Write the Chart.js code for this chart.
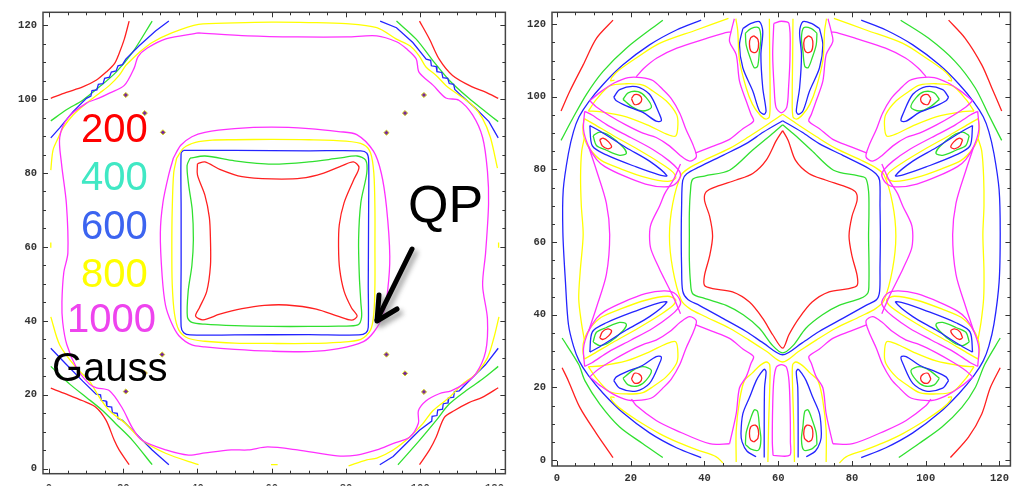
<!DOCTYPE html>
<html><head><meta charset="utf-8">
<script src="https://cdn.jsdelivr.net/npm/chart.js@4.4.1/dist/chart.umd.min.js"></script>
<style>
html,body{margin:0;padding:0;background:#fff;width:1015px;height:486px;overflow:hidden}
body{position:relative}
#c1{position:absolute;left:0;top:0}
#c2{position:absolute;left:510px;top:0}
.lbl{position:absolute;font-family:"Liberation Sans",Arial,sans-serif;font-size:40px;line-height:40px;white-space:nowrap}
#arrow{position:absolute;left:0;top:0}
</style></head><body>
<canvas id="c1" width="512" height="486"></canvas>
<canvas id="c2" width="505" height="486"></canvas>
<div class="lbl" id="t200" style="left:81px;top:108px;color:#ff0000"></div>
<div class="lbl" id="t400" style="left:81px;top:156px;color:#40e8c4"></div>
<div class="lbl" id="t600" style="left:81px;top:205px;color:#3c64f0"></div>
<div class="lbl" id="t800" style="left:81px;top:253px;color:#ffff00"></div>
<div class="lbl" id="t1000" style="left:67px;top:298px;color:#ee44ee"></div>
<div class="lbl" id="tunit" style="left:52px;top:347px;color:#000"></div>
<div class="lbl" id="tqp" style="left:408px;top:178px;color:#000;font-size:52px;line-height:52px"></div>
<svg id="arrow" width="1015" height="486">
<defs><filter id="sh" x="-50%" y="-50%" width="200%" height="200%"><feGaussianBlur stdDeviation="2.5"/></filter></defs>
<g stroke="#888" stroke-width="6" fill="none" stroke-linecap="round" stroke-linejoin="round" filter="url(#sh)" opacity="0.7" transform="translate(3,4)">
<path d="M412,249 L377,320"/><path d="M379,295 L377,321 L397,309"/></g>
<g stroke="#000" stroke-width="5" fill="none" stroke-linecap="round" stroke-linejoin="round">
<path d="M412,249 L377,320"/><path d="M379,295 L377,321 L397,309"/></g>
</svg>
<script>
// ---------- text / ticks ----------
const levelLabels = ['200','400','600','800','1000'];
const unitLabel = 'Gauss';
const pointLabel = 'QP';
const tickValues = [0,20,40,60,80,100,120];

// ---------- LEFT PANEL contours (x,y pairs) ----------
const L_red_center = [40,82.5,42,83,46,81,52,79,60,78.4,68,78.6,74,80,79,82,82,83,83.5,81.5,82,78,79.5,72,78.2,66,78,60,78.3,54,79.5,48,81.5,43.5,83,41.3,81.5,40.2,78,41.2,72,43.2,64,44.3,58,44.2,52,43.3,46,41.8,41.5,40.3,39.5,41.3,40.5,43.5,42.5,48,43.5,55,43.5,62,43.2,68,42,74,40,79.5,40,82.5];
const L_red_TL = [0.5,100.2,4.7,101.8,9.1,103.3,12.7,105.1,15.4,107.3,17.6,109.5,19,112.6,20.3,116.2,21.6,121.1];
const L_red_TR = [99.8,121.1,102.5,116.2,105.1,110.8,108.7,106.4,114,103.3,117.6,101.9,121,100.2];
const L_red_BR = [121,21.9,116.7,19.3,113.1,17.9,109.1,15.7,106.5,13.9,104.3,8.6,102.5,5.1,99.8,1.1];
const L_red_BL = [0.5,21.8,4.7,20.2,9.1,18.4,12.7,16.6,15.4,13.1,17.6,7.7,18.9,5.1,21.6,1.1];

const L_green_center = [38,84,42,84.6,50,83.3,60,82.4,70,83,78,84,83,84.6,85.3,83.5,85.6,80,84,72,83.4,62,83.6,52,84,45,84.2,41,83.2,38.9,78,38.6,70,38.5,60,38.5,50,38.7,42,39.1,38.5,39.6,37.3,41,37.5,48,38.5,55,38.9,62,38.6,70,37.6,77,37.2,82,38,84];
const L_green_TL = [0.5,94.1,4.7,97.1,9.1,99.7,13.6,103.3,18.1,107.3,22.5,112.6,27.8,121.1];
const L_green_TR = [93.6,121.1,98.9,116.2,103.4,110.4,107.8,105.1,113.1,100.2,117.6,96.6,121,93.9];
const L_green_BR = [121,27.7,116.7,24.2,112.3,21.1,107.8,17.5,104.3,13.1,99.8,7.7,94,1.1];
const L_green_BL = [0.5,27.7,5.6,22.9,10.1,19.3,14.5,15.7,18,12.2,22.5,7.7,27.8,1.1];

const L_blue_center = [36.2,86.1,50,86.1,70,86,84,86,85.6,85.4,86.1,83.5,86.1,70,86,50,86,38.3,85.4,36.8,83.5,36.2,70,36.3,50,36.2,38,36.2,36.3,36.8,35.6,38.5,35.6,55,35.6,70,35.6,85.4,36.2,86.1];
const L_blue_TL = [0.5,89.5,2.9,92.2,6.5,96.6,10.1,100.2,11.3,100.8,11.6,102.3,12.9,102.5,13.3,104,14.6,104.2,15,105.6,16.3,105.9,16.8,107.3,18.1,107.6,18.6,109,19.8,109.3,20.7,110.8,24.3,114.4,28.7,118.4,32.3,121.1];
const L_blue_TR = [89.2,121.1,93.6,119.3,98,115.3,101.6,110.8,102.8,110.5,103,109,104.3,108.8,104.5,107.4,105.8,107.2,106.1,105.8,107.4,105.6,107.8,104.2,109,104,109.3,102.6,111.4,100.6,114.9,97.5,118.5,93.9,121,89.5];
const L_blue_BR = [121,32.6,117.6,28.2,114,24.6,110.5,21.1,109.2,20.9,109,19.4,107.7,19.2,107.5,17.8,106.2,17.6,106,16.1,104.7,15.9,104.5,14.4,103.2,14.2,103.1,12.9,99.8,10.4,96.3,6.9,92.7,3.3,89.1,1.1];
const L_blue_BL = [0.5,32.6,4.7,28.2,9.1,23.7,12.7,20.2,13.9,20,14.1,18.5,15.4,18.3,15.6,16.9,16.9,16.7,17.1,15.2,18.4,15,18.6,13.6,19.8,13.1,23.4,9.5,27.8,5.1,32.3,1.1];

const L_yellow_center = [34.4,84,36.3,86.8,39.5,88.3,44,88.9,50,89,60,89.1,70,89,80,88.6,84.7,87.7,86.6,85.5,87.5,80,87.8,70,87.8,60,87.8,50,87.5,42,86.6,37.5,84,35,78,34.2,70,33.9,60,33.9,50,34,42,34.5,37.5,35.3,35,37.5,33.8,42,33.2,50,33.1,60,33.2,70,33.6,80,34.4,84];
const L_yellow_top = [0.5,80.8,1.1,86.2,2.5,89.5,3.8,92.2,6.5,95.7,10.1,98.9,13.6,101.6,16.3,103.7,18.9,106.4,20.7,109.1,22.5,110.9,24.3,112.6,27.8,115.3,33.1,117.9,40.3,120.2,50,120.6,60,120.8,70,120.7,80,120.4,88.3,119.3,93.6,116.2,97.2,114.4,99.7,111.7,101.6,108.6,104.3,106.4,106.9,103.7,110.4,101.1,114,98.4,116.7,94.9,118.9,89.6,120.8,81.3];
const L_yellow_BR = [121.2,41.1,119.8,35.3,118.1,30,114.9,25.6,111.4,22.9,107.8,19.3,103.4,15.7,100.7,12.2,97.2,8.6,92.7,5.1,88.3,2.9,85.6,2.4,80.7,0.8];
const L_yellow_BL = [0.5,41.1,2.9,33.5,7.4,27.3,10.9,23.7,13.6,19.3,16.3,15.7,20.7,12.2,25.1,7.7,31.4,4.2,40.3,1.1];
const L_yellow_stubL = [0.5,61.2,0.5,59.8];
const L_yellow_stubR = [121.1,61.2,121.1,59.8];
const L_yellow_stubB = [59.8,1.1,61.6,1.1];

const L_magenta_center = [33.5,84,35.5,87.5,38.5,89.8,42,91,50,92,60,92.4,70,92,78,91.2,82.9,90.4,87.4,85.9,89.5,80,90.9,70.9,91.8,57.5,91.2,48,90,41.5,87.5,37,84.7,34.4,78,32.5,70,31.7,60,31.8,50,32.3,42,33,38.5,33.5,35,36,33,39.5,31.4,44.2,30.5,52,30,63.7,30.7,72,32.3,79.7,33.5,84];
const L_magenta_outer = [40.3,117.9,53.6,117.1,66.9,116.8,80.3,116.8,88.3,117.1,93.6,115.5,96.3,113.6,98.9,110.9,99.7,107.2,103.5,103.7,106.9,100.3,110.4,99.7,114.1,95.7,116.8,89.6,118.1,80.5,118.4,71.7,117.6,58.4,116.8,49.6,118.1,40.5,117.6,31.7,114.9,25.6,111.7,22.9,108.3,21.1,105.1,20.3,101.6,18.4,99.5,15.7,99.5,12.3,97.1,8.5,92.8,6.9,88.3,5.1,82.9,3.7,77.6,3.5,66.9,5.1,58.9,5.9,53.6,5.1,49.1,5.1,42.1,4.3,37.6,3.7,31.5,5.1,25.1,7.7,22.4,11.2,19.7,16.5,16.3,21.1,12.8,21.9,10.9,22.9,7.5,27.2,4.8,33.6,3.7,39.7,3.5,45.1,4,53.1,5.1,58.4,4.7,71.7,3.4,82.4,2.9,89.6,5.1,94.9,10.1,98.9,13.6,100.3,16.3,101.6,20.3,103.7,23,108.5,24,111.5,26.5,113.8,31.5,116.3,40.3,117.9];
const L_markers = [20.7,101.1,25.8,96.2,30.7,91.0,101.0,101.1,95.9,96.2,90.9,90.9,90.9,30.9,95.9,25.8,101.0,20.8,30.5,30.9,25.8,25.9,20.7,20.9];

// ---------- RIGHT PANEL contours ----------
const R_red_star = [61.2,90.7,59.5,88,56.7,82.5,53.1,78.9,48.6,77.1,43.2,75.3,40.5,73.9,40,71.6,41.4,67.1,42.2,61.7,41.4,56.2,40,50.8,40,48.1,42.2,47.2,47.6,46.3,52.2,43.5,55.8,39,58.5,34.5,61.2,30.8,62.9,34.5,65.6,39,69.2,43.5,73.8,46.3,79.2,47.2,81.4,48.1,81.4,50.8,80,56.2,79.2,61.7,80,67.1,81.4,71.6,80.9,73.9,78.2,75.3,72.8,77.1,68.3,78.9,64.7,82.5,62.7,88,61.2,90.7];
const R_red_TL = [1.1,96.1,3.5,101.6,7.1,108.8,10.7,116.1,15.2,121.1];
const R_red_TR = [106.2,121.1,110.7,116.1,115.2,108.8,117.9,102.5,120.6,96.1];
const R_red_BL = [1.4,25.4,3.1,21.8,6.2,14.5,10.7,7.3,15.2,0.7];
const R_red_BR = [106.7,0.7,111.6,6.3,115.2,12.7,117.5,19.9,120.2,25.4];
const R_red_lobes = [
 [53.4,116.8,54.5,115.8,54.6,113.5,53.8,112.2,52.6,112.6,52.2,114.5,52.5,116.2,53.4,116.8],
 [68.2,116.8,67.1,115.8,67,113.5,67.8,112.2,69,112.6,69.4,114.5,69.1,116.2,68.2,116.8],
 [53.4,5,54.5,6,54.6,8.3,53.8,9.6,52.6,9.2,52.2,7.3,52.5,5.6,53.4,5],
 [68.2,5,67.1,6,67,8.3,67.8,9.6,69,9.2,69.4,7.3,69.1,5.6,68.2,5],
 [20.2,99.5,21,100.6,22.4,100.4,23,99.3,22.4,98.2,21,97.9,20.2,99.5],
 [11.6,88.2,12.5,88.6,14,87.6,14.8,86.2,13.8,85.7,12.3,86.5,11.6,88.2],
 [101.4,99.5,100.6,100.6,99.2,100.4,98.6,99.3,99.2,98.2,100.6,97.9,101.4,99.5],
 [110,88.2,109.1,88.6,107.6,87.6,106.8,86.2,107.8,85.7,109.3,86.5,110,88.2],
 [20.2,22.3,21,21.2,22.4,21.4,23,22.5,22.4,23.6,21,23.9,20.2,22.3],
 [11.6,33.6,12.5,33.2,14,34.2,14.8,35.6,13.8,36.1,12.3,35.3,11.6,33.6],
 [101.4,22.3,100.6,21.2,99.2,21.4,98.6,22.5,99.2,23.6,100.6,23.9,101.4,22.3],
 [110,33.6,109.1,33.2,107.6,34.2,106.8,35.6,107.8,36.1,109.3,35.3,110,33.6]
];

const R_green_star = [61.2,92.3,58,89.5,53,85.3,46.8,79.8,40,78.2,36.8,77.3,36.2,74,35.9,68,35.9,61.7,35.9,55,36.2,49,36.8,45.8,40,44.5,45.9,42.6,50.5,40,54.9,36.3,58.5,31.5,61.2,29.5,64,31.5,67.5,36.3,72,40,76.5,42.6,82.3,44.5,84.3,46,84.6,49,84.6,55,84.5,61.7,84.6,68,84.5,74,83.7,77.6,81.5,78.3,75,79.8,69,85.3,64.5,89.5,61.2,92.3];
const R_green_TL = [1.1,88,4.4,94.3,8,100.7,12.5,107,18.8,113.4,28.7,121.1];
const R_green_TR = [93.2,121.1,100.8,116.1,108,109.7,113.4,102.5,117,95.2,120.6,88];
const R_green_BL = [1.4,33.6,5.9,26.3,7.6,21.8,11.6,15.4,17,9.1,23.3,4.5,28.7,0.7];
const R_green_BR = [92.7,0.7,98.1,4.5,104.4,9.1,109.8,14.5,113.4,19.9,116,26.3,120.2,33.6];
const R_green_lobes = [
 [51.1,117.5,52.6,118.8,54.7,119,55.3,116.1,54.9,112.5,54.4,108.4,53.5,108,52.4,110.7,51.3,114.3,51.1,117.5],
 [70.5,117.5,69,118.8,66.9,119,66.3,116.1,66.7,112.5,67.2,108.4,68.1,108,69.2,110.7,70.3,114.3,70.5,117.5],
 [51.1,4.3,52.6,3,54.7,2.8,55.3,5.7,54.9,9.3,54.4,13.4,53.5,13.8,52.4,11.1,51.3,7.5,51.1,4.3],
 [70.5,4.3,69,3,66.9,2.8,66.3,5.7,66.7,9.3,67.2,13.4,68.1,13.8,69.2,11.1,70.3,7.5,70.5,4.3],
 [17.9,99.3,19.3,101.1,22,101.4,24.2,99.8,25.6,97.1,23.3,96.1,20.6,97.1,17.9,99.3],
 [9.8,89.3,11.6,90.3,14.3,89.3,17.9,86.2,18.8,84.4,17,83.9,13.4,85.3,10.7,86.6,9.8,89.3],
 [103.7,99.3,102.3,101.1,99.6,101.4,97.4,99.8,96,97.1,98.3,96.1,101,97.1,103.7,99.3],
 [111.8,89.3,110,90.3,107.3,89.3,103.7,86.2,102.8,84.4,104.6,83.9,108.2,85.3,110.9,86.6,111.8,89.3],
 [17.9,22.5,19.3,20.7,22,20.4,24.2,22,25.6,24.7,23.3,25.7,20.6,24.7,17.9,22.5],
 [9.8,32.5,11.6,31.5,14.3,32.5,17.9,35.6,18.8,37.4,17,37.9,13.4,36.5,10.7,35.2,9.8,32.5],
 [103.7,22.5,102.3,20.7,99.6,20.4,97.4,22,96,24.7,98.3,25.7,101,24.7,103.7,22.5],
 [111.8,32.5,110,31.5,107.3,32.5,103.7,35.6,102.8,37.4,104.6,37.9,108.2,36.5,110.9,35.2,111.8,32.5]
];

const R_blue_hex = [61.2,93.4,56,90.3,51.3,87.1,45,83.9,38.6,80.7,35.2,78.8,34.1,77,33.8,70,33.7,61.7,33.8,53,34.1,46.5,35.5,44.2,38.6,42.6,45,39,51.3,35.4,56,32.2,61.2,29,66.4,32.2,71.1,35.4,77.5,39,83.8,42.6,86.7,44.2,87.5,46.5,87.6,53,87.7,61.7,87.6,70,87.5,77,86.5,78.8,83.8,80.7,77.5,83.9,71.1,87.1,66.4,90.3,61.2,93.4];
const R_blue_left = [39.1,121.1,32.4,118.4,25.1,114.3,17.9,108.8,12.5,103.4,8.5,98.5,6,94.5,4.5,90.5,3.1,84.4,1.7,74.4,1.6,62.6,2.3,49,3.1,37.4,4.5,31.3,6,27.3,8.5,23.3,12.5,18.4,17.9,13,25.1,7.5,32.4,3.4,39.1,0.7];
const R_blue_right = [82.5,121.1,89.2,118.4,96.5,114.3,103.7,108.8,109.1,103.4,113.1,98.5,115.6,94.5,117.1,90.5,118.5,84.4,119.9,74.4,120.2,62.6,119.9,49,118.5,37.4,117.1,31.3,115.6,27.3,113.1,23.3,109.1,18.4,103.7,13,96.5,7.5,89.2,3.4,82.5,0.7];
const R_blue_lobes = [
 [50.4,118.8,52.6,120.2,54.9,120.7,55.8,118,55.3,111.6,55.8,102.5,56.7,96.1,56.2,95.2,54.9,96.1,53.1,101.6,50.4,108,49.5,114.3,50.4,118.8],
 [71.2,118.8,69,120.2,66.7,120.7,65.8,118,66.3,111.6,65.8,102.5,64.9,96.1,65.4,95.2,66.7,96.1,68.5,101.6,71.2,108,72.1,114.3,71.2,118.8],
 [54,0.9,51.5,2.5,50.2,5,49.9,7.3,50.4,12.7,52.2,17.2,54,21.8,55.3,24,56.2,25,56.7,24.3,56.3,20,56.2,10,56.2,0.7],
 [67.6,0.9,70.1,2.5,71.4,5,71.7,7.3,71.2,12.7,69.4,17.2,67.6,21.8,66.3,24,65.4,25,64.9,24.3,65.3,20,65.4,10,65.4,0.7],
 [15.4,99.9,17,102,21.5,102.8,25.1,100.7,27.8,95.2,28.3,93.4,26.9,93.3,23.3,95.7,18.8,97.5,16.1,98.9,15.4,99.9],
 [8.9,92.1,11.6,90.6,18.8,86,25.1,82.3,29.8,78.3,27.5,78.6,21.5,80.7,13.4,84,9.6,86.5,8.9,92.1],
 [106.2,99.9,104.6,102,100.1,102.8,96.5,100.7,93.8,95.2,93.3,93.4,94.7,93.3,98.3,95.7,102.8,97.5,105.5,98.9,106.2,99.9],
 [112.7,92.1,110,90.6,102.8,86,96.5,82.3,91.8,78.3,94.1,78.6,100.1,80.7,108.2,84,112,86.5,112.7,92.1],
 [15.4,21.9,17,19.8,21.5,19,25.1,21.1,27.8,26.6,28.3,28.4,26.9,28.5,23.3,26.1,18.8,24.3,16.1,22.9,15.4,21.9],
 [8.9,29.7,11.6,31.2,18.8,35.8,25.1,39.5,29.8,43.5,27.5,43.2,21.5,41.1,13.4,37.8,9.6,35.3,8.9,29.7],
 [106.2,21.9,104.6,19.8,100.1,19,96.5,21.1,93.8,26.6,93.3,28.4,94.7,28.5,98.3,26.1,102.8,24.3,105.5,22.9,106.2,21.9],
 [112.7,29.7,110,31.2,102.8,35.8,96.5,39.5,91.8,43.5,94.1,43.2,100.1,41.1,108.2,37.8,112,35.3,112.7,29.7]
];

const R_yellow_center = [61.2,95.2,57,92.3,52,89,46.8,85.8,40,82.6,36,80.5,33.7,78.5,31.4,70.7,30.5,61.7,31.4,52.6,33.7,44,36,41.7,40,39.6,46.8,36.3,52,33.1,57,29.8,61.2,27,65.4,29.8,70.4,33.1,75.6,36.3,82.4,39.6,86.4,41.7,88.7,44,91,52.6,91.9,61.7,91,70.7,88.7,78.5,86.4,80.5,82.4,82.6,75.6,85.8,70.4,89,65.4,92.3,61.2,95.2];
const R_yellow_lobes = [
 [48.5,121.5,49,118.4,49.5,110,51.3,102.5,53,98,54.9,95.2,56.5,93.9,57.6,94.5,57.8,100,57.7,110,57.6,121.5],
 [73.1,121.5,72.6,118.4,72.1,110,70.3,102.5,68.6,98,66.7,95.2,65.1,93.9,64,94.5,63.8,100,63.9,110,64,121.5],
 [48.6,-0.5,48.6,8.2,49.5,16.3,50.8,21.8,53,24,55,26,56.8,27,57.7,26.2,57.7,20,57.4,10,57.2,-0.5],
 [73,-0.5,73,8.2,72.1,16.3,70.8,21.8,68.6,24,66.6,26,64.8,27,63.9,26.2,63.9,20,64.2,10,64.4,-0.5],
 [8.5,96.1,10.7,99.3,14.3,103,18.8,103.6,23.3,103.2,26,101.6,29.6,98.9,32.4,95.2,32.8,92.5,32.2,89.2,29.6,89.8,25.1,92,18.8,94.5,11.6,95.9,8.5,96.1],
 [7.4,94,10,92.5,15,89.5,22,85.5,28,81.8,31.5,79.2,32.2,77.6,30,76.7,24,77.8,17,80.3,12,82.5,9,85.5,7.4,88.5,7,91.5,7.4,94],
 [113.1,96.1,110.9,99.3,107.3,103,102.8,103.6,98.3,103.2,95.6,101.6,92,98.9,89.2,95.2,88.8,92.5,89.4,89.2,92,89.8,96.5,92,102.8,94.5,110,95.9,113.1,96.1],
 [114.2,94,111.6,92.5,106.6,89.5,99.6,85.5,93.6,81.8,90.1,79.2,89.4,77.6,91.6,76.7,97.6,77.8,104.6,80.3,109.6,82.5,112.6,85.5,114.2,88.5,114.6,91.5,114.2,94],
 [8.5,25.7,10.7,22.5,14.3,18.8,18.8,18.2,23.3,18.6,26,20.2,29.6,22.9,32.4,26.6,32.8,29.3,32.2,32.6,29.6,32,25.1,29.8,18.8,27.3,11.6,25.9,8.5,25.7],
 [7.4,27.8,10,29.3,15,32.3,22,36.3,28,40,31.5,42.6,32.2,44.2,30,45.1,24,44,17,41.5,12,39.3,9,36.3,7.4,33.3,7,30.3,7.4,27.8],
 [113.1,25.7,110.9,22.5,107.3,18.8,102.8,18.2,98.3,18.6,95.6,20.2,92,22.9,89.2,26.6,88.8,29.3,89.4,32.6,92,32,96.5,29.8,102.8,27.3,110,25.9,113.1,25.7],
 [114.2,27.8,111.6,29.3,106.6,32.3,99.6,36.3,93.6,40,90.1,42.6,89.4,44.2,91.6,45.1,97.6,44,104.6,41.5,109.6,39.3,112.6,36.3,114.2,33.3,114.6,30.3,114.2,27.8]
];
const R_yellow_outer = [
 [46.5,121.6,37.8,118.4,27.8,114.7,21.5,110.7,17,107.5,15,105.5,14.6,104.4,15.6,104.6],
 [75.1,121.6,83.8,118.4,93.8,114.7,100.1,110.7,104.6,107.5,106.6,105.5,107,104.4,106,104.6],
 [15.6,17.2,14.6,17.4,15,16.3,17,14.3,21.5,11.1,27.8,7.3,33,4.8,38,2.8,43.2,0.9,45,-0.8],
 [106,17.2,107,17.4,106.6,16.3,104.6,14.3,100.1,11.1,93.8,7.3,88.6,4.8,83.6,2.8,78.4,0.9,76.6,-0.8],
 [7.4,88.5,6.7,85,6.4,78,6.6,70,7.1,62,6.3,52,5.9,44.4,6.6,38,7.4,33.3],
 [114.2,88.5,115.2,85,115.7,78,115.8,70,115.5,62,115.8,52,115.7,44.4,115,38,114.2,33.3]
];

const R_magenta_center = [
 [58.8,120.2,60.85,120.8,62.9,120.2,63.2,111.6,62.8,102.5,62.3,97.1,60.85,95.6,59.4,97.1,58.9,102.5,58.5,111.6,58.8,120.2],
 [58.6,1.3,63.1,1.3,63.3,5,63.2,15,62.9,22,62.2,25.6,60.85,26.3,59.5,25.6,58.8,22,58.5,15,58.4,5,58.6,1.3],
 [33.5,81.5,31.5,77,29.3,73.5,27.8,69.9,25.5,65,25.1,61.7,25.5,58,27.8,52.6,29.3,49.5,31.5,45,33.5,40.3],
 [88.1,81.5,90.1,77,92.3,73.5,93.8,69.9,96.1,65,96.5,61.7,96.1,58,93.8,52.6,92.3,49.5,90.1,45,88.1,40.3]
];
const R_magenta_edges = [
 [48.1,121.5,47.2,117.9,46.8,115.2,48.6,111.6,49.5,104.3,51.3,98.9,52.6,95.2,53.3,93.3,50.5,91.3,46.8,88.3,42,86.3,37.5,84.5],
 [73.5,121.5,74.4,117.9,74.8,115.2,73,111.6,72.1,104.3,70.3,98.9,69,95.2,68.3,93.3,71.1,91.3,74.8,88.3,79.6,86.3,84.1,84.5],
 [46.8,4.5,48.6,12.7,49.5,19.9,51.3,22.9,52.6,26.6,53.3,28.5,50.5,30.5,46.8,33.5,42,35.5,37.5,37.3],
 [74.8,4.5,73,12.7,72.1,19.9,70.3,22.9,69,26.6,68.3,28.5,71.1,30.5,74.8,33.5,79.6,35.5,84.1,37.3],
 [47.2,117.9,45.1,117.5,40.6,116.1,32.5,113.4,27.1,110.7,23.5,107.8,21.5,105.5],
 [74.4,117.9,76.5,117.5,81,116.1,89.1,113.4,94.5,110.7,98.1,107.8,100.1,105.5],
 [46.8,4.5,41.4,4.5,32.3,8.2,26.9,10.9,21.5,15,20.2,16.8],
 [74.8,4.5,80.2,4.5,89.3,8.2,94.7,10.9,100.1,15,101.4,16.8],
 [8.5,86.5,10.7,79.8,13.4,70.7,14.3,62,13.4,51.1,10.7,42,8.5,35.3],
 [113.1,86.5,110.9,79.8,108.2,70.7,107.3,62,108.2,51.1,110.9,42,113.1,35.3]
];
const R_magenta_lobes = [
 [8.9,98.9,12,101.5,15.5,103.8,19.3,105.3,22.9,105.3,26,104.5,28.7,102,31,99.5,33.3,95.5,35,91,37,86.5,37.8,83.5,36,82.3,33.5,83.8,30.5,86.5,26.9,88.8,23.3,90,18.8,92.2,14.3,94.8,10.7,97.2,8.9,98.9],
 [7.5,96,9.5,95,14,92,20,88.8,26,85.5,30.5,82.3,33,79.8,33.5,78.2,31.8,75.8,29,75.2,24,76,18,78.3,13,80.8,10.7,82.8,8.5,86.5,7.2,91,7.5,96],
 [112.7,98.9,109.6,101.5,106.1,103.8,102.3,105.3,98.7,105.3,95.6,104.5,92.9,102,90.6,99.5,88.3,95.5,86.6,91,84.6,86.5,83.8,83.5,85.6,82.3,88.1,83.8,91.1,86.5,94.7,88.8,98.3,90,102.8,92.2,107.3,94.8,110.9,97.2,112.7,98.9],
 [114.1,96,112.1,95,107.6,92,101.6,88.8,95.6,85.5,91.1,82.3,88.6,79.8,88.1,78.2,89.8,75.8,92.6,75.2,97.6,76,103.6,78.3,108.6,80.8,110.9,82.8,113.1,86.5,114.4,91,114.1,96],
 [8.9,22.9,12,20.3,15.5,18,19.3,16.5,22.9,16.5,26,17.3,28.7,19.8,31,22.3,33.3,26.3,35,30.8,37,35.3,37.8,38.3,36,39.5,33.5,38,30.5,35.3,26.9,33,23.3,31.8,18.8,29.6,14.3,27,10.7,24.6,8.9,22.9],
 [7.5,25.8,9.5,26.8,14,29.8,20,33,26,36.3,30.5,39.5,33,42,33.5,43.6,31.8,46,29,46.6,24,45.8,18,43.5,13,41,10.7,39,8.5,35.3,7.2,30.8,7.5,25.8],
 [112.7,22.9,109.6,20.3,106.1,18,102.3,16.5,98.7,16.5,95.6,17.3,92.9,19.8,90.6,22.3,88.3,26.3,86.6,30.8,84.6,35.3,83.8,38.3,85.6,39.5,88.1,38,91.1,35.3,94.7,33,98.3,31.8,102.8,29.6,107.3,27,110.9,24.6,112.7,22.9],
 [114.1,25.8,112.1,26.8,107.6,29.8,101.6,33,95.6,36.3,91.1,39.5,88.6,42,88.1,43.6,89.8,46,92.6,46.6,97.6,45.8,103.6,43.5,108.6,41,110.9,39,113.1,35.3,114.4,30.8,114.1,25.8]
];

// ---------- rendering ----------
document.getElementById('t200').textContent = levelLabels[0];
document.getElementById('t400').textContent = levelLabels[1];
document.getElementById('t600').textContent = levelLabels[2];
document.getElementById('t800').textContent = levelLabels[3];
document.getElementById('t1000').textContent = levelLabels[4];
document.getElementById('tunit').textContent = unitLabel;
document.getElementById('tqp').textContent = pointLabel;

const COL = {red:'#ff2020', green:'#30e030', blue:'#2424ff', yellow:'#ffff00', magenta:'#ff30ff'};
function pts(a){const o=[];for(let i=0;i<a.length;i+=2)o.push({x:a[i],y:a[i+1]});return o;}
function line(a,c,t){return {data:pts(a),showLine:true,borderColor:c,borderWidth:1.3,pointRadius:0,fill:false,tension:(t===undefined?0.3:t)};}

const framePlugin = {
  id:'frame',
  afterDatasetsDraw(chart){
    const {ctx, chartArea:a, scales:{x,y}} = chart;
    ctx.save();
    ctx.strokeStyle='#444'; ctx.lineWidth=1.5;
    ctx.strokeRect(a.left,a.top,a.right-a.left,a.bottom-a.top);
    ctx.lineWidth=1; ctx.strokeStyle='#333';
    ctx.beginPath();
    for(let v=0; v<=120; v+=5){
      const L = (v%20===0)?5:3;
      const px=Math.round(x.getPixelForValue(v))+0.5, py=Math.round(y.getPixelForValue(v))+0.5;
      ctx.moveTo(px,a.bottom); ctx.lineTo(px,a.bottom-L);
      ctx.moveTo(px,a.top); ctx.lineTo(px,a.top+L);
      ctx.moveTo(a.left,py); ctx.lineTo(a.left+L,py);
      ctx.moveTo(a.right,py); ctx.lineTo(a.right-L,py);
    }
    ctx.stroke();
    ctx.restore();
  }
};

function makeChart(id, datasets, xr, yr, yW, xH, pad, xPad){
  const tickFont = {family:'Liberation Mono', size:10.5, weight:'bold'};
  return new Chart(document.getElementById(id), {
    type:'scatter',
    data:{datasets},
    options:{
      responsive:false, animation:false, events:[], devicePixelRatio:1,
      layout:{padding:pad, autoPadding:false},
      plugins:{legend:{display:false}, tooltip:{enabled:false}},
      scales:{
        x:{type:'linear', min:xr[0], max:xr[1],
           afterBuildTicks:s=>{s.ticks=tickValues.map(v=>({value:v}));},
           afterFit:s=>{s.height=xH;},
           grid:{display:false, drawTicks:false}, border:{display:false},
           ticks:{padding:xPad, font:tickFont, color:'#333', maxRotation:0, autoSkip:false}},
        y:{type:'linear', min:yr[0], max:yr[1],
           afterBuildTicks:s=>{s.ticks=tickValues.map(v=>({value:v}));},
           afterFit:s=>{s.width=yW;},
           grid:{display:false, drawTicks:false}, border:{display:false},
           ticks:{padding:6, font:tickFont, color:'#333', autoSkip:false}}
      }
    },
    plugins:[framePlugin]
  });
}

// left datasets
const leftSets = [];
[L_magenta_center, L_magenta_outer].forEach(a=>leftSets.push(line(a,COL.magenta)));
[L_yellow_center, L_yellow_top, L_yellow_BR, L_yellow_BL, L_yellow_stubL, L_yellow_stubR, L_yellow_stubB].forEach(a=>leftSets.push(line(a,COL.yellow)));
leftSets.push(line(L_blue_center,COL.blue));
[L_blue_TL, L_blue_TR, L_blue_BR, L_blue_BL].forEach(a=>leftSets.push(line(a,COL.blue,0)));
[L_green_center, L_green_TL, L_green_TR, L_green_BR, L_green_BL].forEach(a=>leftSets.push(line(a,COL.green)));
[L_red_center, L_red_TL, L_red_TR, L_red_BR, L_red_BL].forEach(a=>leftSets.push(line(a,COL.red)));
leftSets.push({data:pts(L_markers), showLine:false, pointStyle:'rectRot', pointRadius:2.6, backgroundColor:'#7a2a9a', borderColor:'#d8d820', borderWidth:1});

makeChart('c1', leftSets, [-1.6,122.93], [-1.33,123.47], 43, 12, {left:0,top:6,right:2,bottom:0}, 8);

// right datasets
const rightSets = [];
R_magenta_center.forEach(a=>rightSets.push(line(a,COL.magenta)));
R_magenta_edges.forEach(a=>rightSets.push(line(a,COL.magenta)));
R_magenta_lobes.forEach(a=>rightSets.push(line(a,COL.magenta)));
rightSets.push(line(R_yellow_center,COL.yellow));
R_yellow_lobes.forEach(a=>rightSets.push(line(a,COL.yellow)));
R_yellow_outer.forEach(a=>rightSets.push(line(a,COL.yellow)));
[R_blue_hex, R_blue_left, R_blue_right].forEach(a=>rightSets.push(line(a,COL.blue)));
R_blue_lobes.forEach(a=>rightSets.push(line(a,COL.blue)));
[R_green_star, R_green_TL, R_green_TR, R_green_BL, R_green_BR].forEach(a=>rightSets.push(line(a,COL.green)));
R_green_lobes.forEach(a=>rightSets.push(line(a,COL.green)));
[R_red_star, R_red_TL, R_red_TR, R_red_BL, R_red_BR].forEach(a=>rightSets.push(line(a,COL.red)));
R_red_lobes.forEach(a=>rightSets.push(line(a,COL.red)));

makeChart('c2', rightSets, [-1.35,122.97], [-1.63,123.27], 42, 20, {left:0,top:7,right:3,bottom:0}, 6);
</script>
</body></html>
